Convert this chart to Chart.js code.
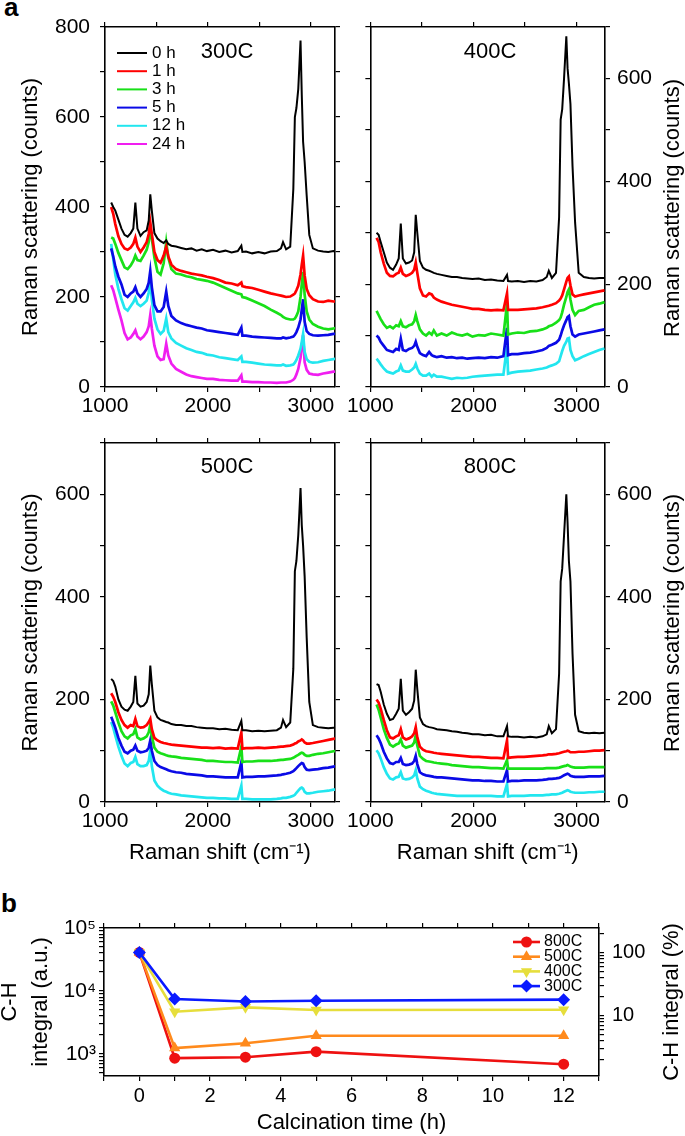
<!DOCTYPE html>
<html>
<head>
<meta charset="utf-8">
<script src="https://cdn.jsdelivr.net/npm/chart.js@4.4.1/dist/chart.umd.min.js"></script>
<style>
body { margin: 0; background: #fff; width: 685px; height: 1136px; position: relative; overflow: hidden; font-family: "Liberation Sans", Arial, sans-serif; }
canvas { position: absolute; }
.tag { position: absolute; font-weight: bold; font-size: 26px; line-height: 26px; }
</style>
</head>
<body>
<div class="tag" style="left:4px;top:-6px">a</div>
<div class="tag" style="left:1px;top:890px">b</div>
<canvas id="c300" width="345" height="415" style="left:0;top:0"></canvas>
<canvas id="c400" width="340" height="415" style="left:345px;top:0"></canvas>
<canvas id="c500" width="345" height="460" style="left:0;top:415px"></canvas>
<canvas id="c800" width="340" height="460" style="left:345px;top:415px"></canvas>
<canvas id="cInt" width="685" height="261" style="left:0;top:875px"></canvas>
<script>
// Raman shift grid (cm-1) shared by all spectra
const ramanShift = [1060,1080,1100,1130,1160,1190,1220,1250, 1275,1295,1315,1345,1375,1405,1425,1440,
  1455,1480,1510,1540,1570,1595,1615,1645, 1690,1740,1790,1840,1890,1940,1990,2050,
  2110,2170,2230,2290,2325,2335,2370,2430, 2490,2550,2610,2670,2710,2730,2760,2800,
  2830,2845,2860,2878,2900,2912,2925,2940, 2960,2985,3020,3070,3120,3170,3220,3270];

const hourLabels = ['0 h', '1 h', '3 h', '5 h', '12 h', '24 h'];
const hourColors = ['#000000', '#ff0000', '#18e018', '#0a0ae6', '#22e6ef', '#f01ef0'];

// 300C
const c300_0h = [410,400,392,372,352,338,334,342, 352,410,352,336,344,348,370,428,
  392,342,330,324,320,326,318,314, 312,309,306,308,303,306,302,305,
  300,303,299,302,314,300,301,297, 300,297,301,302,308,322,306,312,
  440,600,620,662,770,650,545,500, 425,338,308,303,301,300,302,301];
const c300_1h = [400,385,362,335,318,308,305,310, 318,332,312,300,310,322,340,366,
  340,300,282,276,292,312,290,272, 262,258,255,252,250,248,245,242,
  238,232,230,226,232,224,222,220, 216,212,208,205,203,202,200,201,
  205,208,215,225,250,272,292,248, 218,204,195,190,189,192,190,191];
const c300_3h = [332,330,318,298,282,266,262,270, 280,292,282,280,292,305,322,350,
  330,288,256,250,275,322,288,262, 252,250,246,244,240,238,236,232,
  226,220,214,208,206,200,198,192, 186,180,172,165,160,156,152,150,
  150,152,158,168,200,228,256,205, 168,150,140,134,130,128,130,132];
const c300_5h = [308,290,268,245,228,205,200,208, 212,222,208,200,208,218,232,258,
  222,182,168,168,178,212,180,158, 148,142,138,135,132,130,126,124,
  122,120,118,116,132,114,114,112, 111,110,109,108,108,110,108,110,
  112,116,122,132,150,172,195,145, 124,118,115,114,115,116,118,118];
const c300_12h = [318,285,250,218,195,175,170,180, 188,198,185,180,185,192,210,240,
  195,152,128,118,125,152,122,108, 98,92,86,82,78,76,72,70,
  66,64,62,60,68,56,56,54, 52,50,49,48,48,50,47,48,
  50,54,60,70,85,100,118,78, 62,56,54,55,58,60,62,63];
const c300_24h = [226,215,198,172,148,120,106,110, 118,126,112,106,112,122,135,160,
  130,92,68,60,62,96,70,52, 40,34,28,24,22,20,18,18,
  16,15,14,14,26,12,12,11, 11,10,10,9,10,10,10,12,
  16,20,28,40,65,90,115,55, 38,30,28,27,30,32,34,35];

// 400C
const c400_0h = [300,296,282,262,242,232,228,238, 250,318,250,240,242,246,262,335,
  300,245,232,228,226,224,222,220, 218,216,214,214,212,211,210,211,
  208,209,207,206,218,206,205,206, 204,206,205,208,214,226,212,222,
  330,520,540,600,682,620,590,550, 430,320,222,214,212,211,212,212];
const c400_1h = [290,282,262,240,222,216,215,220, 222,232,220,216,218,222,228,242,
  222,192,178,176,182,180,174,170, 166,163,160,158,156,154,152,152,
  150,149,150,149,182,150,150,150, 151,152,153,155,157,158,160,163,
  168,172,178,190,205,212,215,198, 180,176,178,180,182,184,186,188];
const c400_3h = [148,140,132,122,115,118,114,120, 118,128,118,116,120,122,128,140,
  128,112,104,100,106,102,110,100, 104,100,106,102,100,103,98,101,
  100,104,102,100,162,102,104,106, 105,108,109,112,115,118,120,125,
  130,135,145,160,175,185,190,170, 150,140,148,150,155,160,162,165];
const c400_5h = [100,96,88,80,72,70,68,74, 72,94,72,70,74,76,80,88,
  78,66,62,60,68,62,60,58, 60,57,58,56,57,55,56,57,
  56,58,57,60,115,62,64,64, 66,67,69,72,76,80,82,86,
  92,100,110,120,130,136,138,118, 102,98,102,104,106,108,110,112];
const c400_12h = [55,50,44,36,30,28,26,30, 32,42,32,30,30,34,38,45,
  36,26,22,22,26,20,24,20, 20,18,16,18,17,18,20,21,
  22,23,24,24,80,26,28,30, 31,32,34,36,38,40,42,45,
  50,60,70,80,88,94,95,72, 60,52,55,60,64,68,72,75];

// 500C
const c500_0h = [240,236,225,200,186,180,178,186, 195,246,192,186,188,195,210,266,
  230,178,165,160,158,156,155,152, 150,150,148,148,146,145,144,144,
  142,143,141,140,158,140,140,138, 139,138,139,140,145,160,146,155,
  260,450,470,520,612,540,500,440, 320,195,150,146,145,144,145,145];
const c500_1h = [212,205,195,175,160,150,145,150, 148,162,148,145,146,150,156,162,
  142,125,120,117,115,114,113,112, 111,110,109,108,107,106,106,105,
  106,104,105,104,135,104,105,105, 106,105,106,107,108,108,109,110,
  112,114,115,118,120,122,120,116, 114,114,115,117,119,121,123,125];
const c500_3h = [196,188,175,155,138,128,124,130, 132,142,126,122,124,128,136,150,
  128,106,98,95,93,91,90,89, 88,86,85,84,83,82,80,80,
  79,78,78,77,108,78,79,79, 80,80,80,81,82,82,83,84,
  86,88,90,92,95,96,95,92, 90,90,92,94,95,97,99,100];
const c500_5h = [166,156,145,125,110,98,95,100, 102,110,100,97,98,100,106,120,
  100,80,72,68,66,64,62,60, 58,57,55,54,53,52,50,50,
  49,48,48,48,78,48,49,49, 50,50,51,52,53,54,55,57,
  60,63,66,70,74,76,75,68, 63,62,63,64,66,67,69,70];
const c500_12h = [156,145,130,108,90,75,70,76, 78,88,74,70,70,72,80,100,
  70,42,32,26,22,20,18,16, 15,13,12,11,10,9,8,8,
  7,7,6,6,32,6,6,5, 5,5,5,6,7,8,8,10,
  12,14,18,22,27,28,26,20, 17,17,18,20,21,22,24,25];

// 800C
const c800_0h = [230,228,215,190,172,160,162,172, 182,240,178,170,175,182,198,258,
  220,165,152,148,146,145,144,142, 141,140,138,137,135,134,132,132,
  130,131,128,128,148,128,127,127, 126,127,126,128,132,148,134,142,
  250,430,455,520,600,545,470,430, 290,170,138,135,134,135,134,135];
const c800_1h = [200,194,182,160,140,126,124,128, 130,142,126,122,124,128,134,146,
  126,108,102,99,98,97,96,95, 94,93,92,91,90,89,88,88,
  87,86,86,85,120,86,87,88, 88,89,90,91,92,93,93,94,
  95,96,97,98,99,100,99,97, 97,97,98,98,99,100,100,101];
const c800_3h = [190,180,165,142,125,112,108,112, 114,122,110,106,108,110,116,130,
  110,90,84,80,79,78,77,76, 75,74,72,71,70,69,68,68,
  67,66,66,65,82,65,65,65, 65,65,65,65,66,66,66,66,
  67,68,69,70,71,72,71,69, 68,67,67,67,68,68,68,68];
const c800_5h = [130,124,115,98,85,76,74,78, 78,86,74,72,73,75,80,90,
  74,58,54,52,51,50,49,48, 48,47,46,45,44,43,42,42,
  41,41,40,40,62,40,41,41, 42,42,42,43,44,45,45,46,
  47,48,50,52,54,55,54,51, 50,49,49,49,50,50,50,51];
const c800_12h = [101,95,85,68,55,46,44,48, 49,58,46,44,45,48,52,62,
  46,30,25,22,20,18,17,16, 15,14,13,12,12,12,12,12,
  12,12,11,11,35,11,12,12, 12,13,13,13,14,14,15,15,
  16,17,18,20,22,23,22,20, 19,18,18,18,19,19,20,20];

const ramanTicks = [1000, 1500, 2000, 2500, 3000];
const ramanLabels = [1000, 2000, 3000];
const countTicks800 = [0, 100, 200, 300, 400, 500, 600, 700, 800];
const countTicks700 = [0, 100, 200, 300, 400, 500, 600, 700];
const countLabels = [0, 200, 400, 600, 800];

// panel b: C-H integral vs calcination time
const calcTime = [0, 1, 3, 5, 12];
const ch800 = [41000, 860, 890, 1090, 690];
const ch500 = [41000, 1245, 1480, 1950, 1950];
const ch400 = [41000, 4700, 5500, 5000, 5050];
const ch300 = [41000, 7450, 6800, 7000, 7300];
const percentBase = 41000;  // value that reads as 100 % on the right axis
const timeTicks = [-1, 0, 1, 2, 3, 4, 5, 6, 7, 8, 9, 10, 11, 12, 13];
const timeLabels = [0, 2, 4, 6, 8, 10, 12];
const intTicks = [500, 600, 700, 800, 900, 1000, 2000, 3000, 4000, 5000, 6000, 7000, 8000, 9000,
  10000, 20000, 30000, 40000, 50000, 60000, 70000, 80000, 90000, 100000];
const intLabels = {1000: '10\u00B3', 10000: '10\u2074', 100000: '10\u2075'};
const pctTicks = [2, 3, 4, 5, 6, 7, 8, 9, 10, 20, 30, 40, 50, 60, 70, 80, 90, 100, 200];
const pctLabels = {10: '10', 100: '100'};

const FONT = '"Liberation Sans", Arial, Helvetica, sans-serif';
Chart.defaults.font.family = FONT;
Chart.defaults.color = '#000';

// draws free text (panel names, rotated right titles) and a hand placed legend
function deco(texts, legend) {
    return {
        id: 'deco',
        afterDraw(chart) {
            const ctx = chart.ctx;
            ctx.save();
            texts.forEach(t => {
                ctx.save();
                ctx.fillStyle = '#000';
                ctx.font = t.size + 'px ' + FONT;
                ctx.textAlign = 'center';
                ctx.textBaseline = 'middle';
                ctx.translate(t.x, t.y);
                if (t.up) ctx.rotate(-Math.PI / 2);
                ctx.fillText(t.text, 0, 0);
                ctx.restore();
            });
            if (legend) {
                ctx.font = legend.size + 'px ' + FONT;
                ctx.textAlign = 'left';
                ctx.textBaseline = 'middle';
                chart.data.datasets.forEach((ds, i) => {
                    const y = legend.y + i * legend.dy;
                    ctx.strokeStyle = ds.borderColor;
                    ctx.lineWidth = legend.lw;
                    ctx.beginPath();
                    ctx.moveTo(legend.x, y);
                    ctx.lineTo(legend.x + legend.len, y);
                    ctx.stroke();
                    if (ds.pointRadius > 0 && Chart.helpers && Chart.helpers.drawPoint) {
                        ctx.fillStyle = ds.backgroundColor;
                        Chart.helpers.drawPoint(ctx, {pointStyle: ds.pointStyle, rotation: ds.pointRotation || 0,
                            radius: ds.pointRadius, borderWidth: 0}, legend.x + legend.len / 2, y);
                    }
                    ctx.fillStyle = '#000';
                    ctx.fillText(ds.label, legend.x + legend.len + legend.gap, y);
                });
            }
            ctx.restore();
        }
    };
}

// one side of the plot frame; labelled or only tick marks
function frameAxis(position, type, min, max, tickVals, labelFn, fitSize, fontSize, pad, title) {
    const horizontal = position === 'top' || position === 'bottom';
    return {
        type: type,
        position: position,
        min: min,
        max: max,
        afterBuildTicks: s => { s.ticks = tickVals.map(v => ({value: v})); },
        afterFit: s => { if (horizontal) s.height = fitSize; else s.width = fitSize; },
        ticks: {
            display: !!labelFn,
            autoSkip: false,
            maxRotation: 0,
            minRotation: 0,
            padding: pad,
            color: '#000',
            font: {size: fontSize},
            callback: v => labelFn ? labelFn(v) : ''
        },
        grid: {drawOnChartArea: false, drawTicks: true, tickLength: 5, color: '#000', lineWidth: 1.2},
        border: {display: true, color: '#000', width: 1.6},
        title: title || {display: false}
    };
}

function ramanChart(id, series, cfg) {
    const ctx = document.getElementById(id).getContext('2d');
    const countTicks = cfg.ymax === 800 ? countTicks800 : countTicks700;
    const countFn = v => countLabels.includes(v) ? String(v) : '';
    const shiftFn = v => ramanLabels.includes(v) ? String(v) : '';
    const yTitle = {display: true, text: 'Raman scattering (counts)', font: {size: 22}, padding: {top: 18, bottom: 0}};
    const xTitle = cfg.xTitle ? {display: true, text: 'Raman shift (cm\u207B\u00B9)', font: {size: 22}, padding: {top: 0, bottom: 9}} : null;
    const labelLeft = cfg.side === 'left';
    return new Chart(ctx, {
        type: 'line',
        data: {
            datasets: series.map((vals, i) => ({
                label: hourLabels[i],
                data: ramanShift.map((x, j) => ({x: x, y: vals[j]})),
                borderColor: hourColors[i],
                borderWidth: i === 0 ? 2 : 2.7,
                pointRadius: 0,
                tension: 0,
                fill: false
            }))
        },
        options: {
            responsive: false,
            animation: false,
            layout: {padding: 0},
            plugins: {legend: {display: false}, tooltip: {enabled: false}},
            scales: {
                x: frameAxis('bottom', 'linear', 1000, cfg.xmax, ramanTicks, shiftFn, cfg.fit.bottom, 21, 2, xTitle),
                x2: frameAxis('top', 'linear', 1000, cfg.xmax, ramanTicks, null, cfg.fit.top, 21, 0),
                y: frameAxis(labelLeft ? 'left' : 'right', 'linear', 0, cfg.ymax, countTicks, countFn,
                    labelLeft ? cfg.fit.left : cfg.fit.right, 21, labelLeft ? 10 : 7, labelLeft ? yTitle : null),
                y2: frameAxis(labelLeft ? 'right' : 'left', 'linear', 0, cfg.ymax, countTicks, null,
                    labelLeft ? cfg.fit.right : cfg.fit.left, 21, 0)
            }
        },
        plugins: [deco(cfg.texts, cfg.legend)]
    });
}

ramanChart('c300', [c300_0h, c300_1h, c300_3h, c300_5h, c300_12h, c300_24h], {
    xmax: 3235, ymax: 800, side: 'left',
    fit: {left: 105, right: 10, top: 27, bottom: 28},
    texts: [{text: '300C', x: 227, y: 52, size: 22}],
    legend: {x: 117, y: 53, dy: 18.2, len: 30, gap: 5, lw: 2, size: 17}
});
ramanChart('c400', [c400_0h, c400_1h, c400_3h, c400_5h, c400_12h], {
    xmax: 3275, ymax: 700, side: 'right',
    fit: {left: 25, right: 80, top: 27, bottom: 28},
    texts: [{text: '400C', x: 145, y: 52, size: 22},
            {text: 'Raman scattering (counts)', x: 328, y: 208, size: 22, up: true}]
});
ramanChart('c500', [c500_0h, c500_1h, c500_3h, c500_5h, c500_12h], {
    xmax: 3235, ymax: 700, side: 'left', xTitle: true,
    fit: {left: 105, right: 10, top: 28, bottom: 73},
    texts: [{text: '500C', x: 227, y: 52, size: 22}]
});
ramanChart('c800', [c800_0h, c800_1h, c800_3h, c800_5h, c800_12h], {
    xmax: 3275, ymax: 700, side: 'right', xTitle: true,
    fit: {left: 25, right: 80, top: 28, bottom: 73},
    texts: [{text: '800C', x: 145, y: 52, size: 22},
            {text: 'Raman scattering (counts)', x: 328, y: 208, size: 22, up: true}]
});

// panel b
const intMin = 448, intMax = 100000;
const intCtx = document.getElementById('cInt').getContext('2d');
function intSeries(label, vals, color, style, rot, radius, order) {
    return {
        label: label,
        data: calcTime.map((t, i) => ({x: t, y: vals[i]})),
        borderColor: color,
        backgroundColor: color,
        borderWidth: 2.6,
        pointStyle: style,
        pointRotation: rot,
        pointRadius: radius,
        pointBorderWidth: 0,
        tension: 0,
        order: order
    };
}
new Chart(intCtx, {
    type: 'line',
    data: {
        datasets: [
            intSeries('800C', ch800, '#ee1111', 'circle', 0, 5.5, 4),
            intSeries('500C', ch500, '#ff8a1c', 'triangle', 0, 6.5, 3),
            intSeries('400C', ch400, '#e6de3c', 'triangle', 180, 6.5, 2),
            intSeries('300C', ch300, '#0a1aff', 'rectRot', 0, 6.5, 1)
        ]
    },
    options: {
        responsive: false,
        animation: false,
        layout: {padding: 0},
        plugins: {legend: {display: false}, tooltip: {enabled: false}},
        scales: {
            x: frameAxis('bottom', 'linear', -1, 13, timeTicks, v => timeLabels.includes(v) ? String(v) : '', 60, 20, 3,
                {display: true, text: 'Calcination time (h)', font: {size: 22}, padding: {top: 0, bottom: 0}}),
            x2: frameAxis('top', 'linear', -1, 13, timeTicks, null, 53, 20, 0),
            y: frameAxis('left', 'logarithmic', intMin, intMax, intTicks, v => intLabels[v] || '', 104, 21, 3,
                {display: true, text: ['C-H', 'integral (a.u.)'], font: {size: 22, lineHeight: 1.4}, padding: {top: -5, bottom: 0}}),
            y2: frameAxis('right', 'logarithmic', intMin / percentBase * 100, intMax / percentBase * 100, pctTicks,
                v => pctLabels[v] || '', 86, 20, 8)
        }
    },
    plugins: [deco([{text: 'C-H integral (%)', x: 672, y: 127, size: 22, up: true}],
        {x: 513, y: 67, dy: 14.7, len: 27, gap: 4, lw: 2.6, size: 16})]
});
</script>
</body>
</html>
